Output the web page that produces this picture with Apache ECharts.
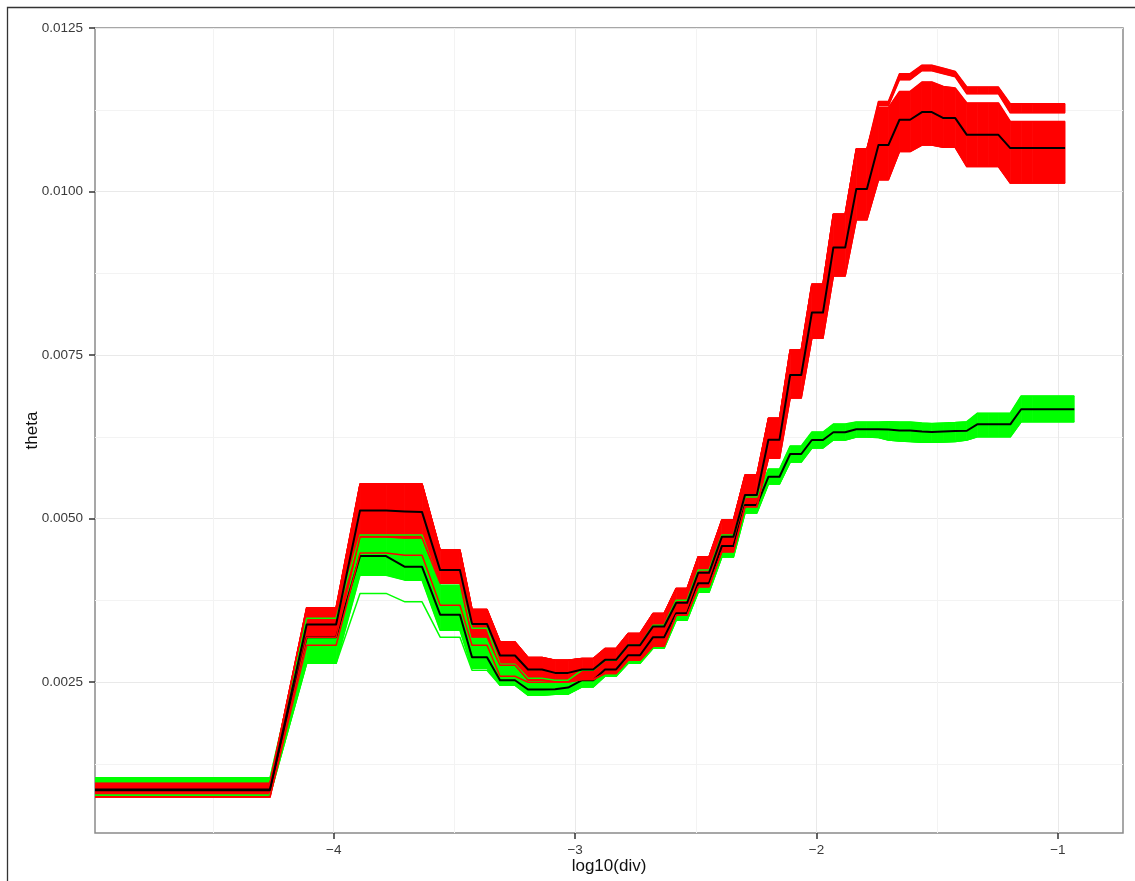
<!DOCTYPE html>
<html>
<head>
<meta charset="utf-8">
<title>theta vs log10(div)</title>
<script src="https://cdn.jsdelivr.net/npm/echarts@6/dist/echarts.min.js"></script>
<style>
  html, body { margin: 0; padding: 0; background: #ffffff; }
  #chart { width: 1135px; height: 881px; }
</style>
</head>
<body>
<div id="chart"></div>
<script>
// Breakpoints on the log10(div) axis shared by every curve (last point added per group)
const logDiv = [
  -4.989, -4.264, -4.112, -3.990, -3.891, -3.783, -3.705, -3.634, -3.559, -3.477,
  -3.427, -3.365, -3.311, -3.249, -3.195, -3.137, -3.083, -3.029, -2.971, -2.925,
  -2.876, -2.830, -2.780, -2.731, -2.677, -2.631, -2.581, -2.536, -2.490, -2.445,
  -2.392, -2.344, -2.296, -2.247, -2.199, -2.153, -2.109, -2.063, -2.019, -1.973,
  -1.930, -1.881, -1.835, -1.791, -1.743, -1.702, -1.656, -1.612, -1.563, -1.522,
  -1.474, -1.425, -1.377, -1.334, -1.288, -1.246, -1.197, -1.152, -1.106
];
const redEnd = -0.970;
const greenEnd = -0.932;

// Red group: mean curve, replicate envelope (upper/lower) and outermost replicates
const redMean = [
  0.000857, 0.000857, 0.003381, 0.003381, 0.005125, 0.005122, 0.005107, 0.005099, 0.004212, 0.004212,
  0.003390, 0.003390, 0.002907, 0.002907, 0.002693, 0.002693, 0.002641, 0.002641, 0.002693, 0.002693,
  0.002840, 0.002840, 0.003064, 0.003064, 0.003351, 0.003351, 0.003712, 0.003712, 0.004171, 0.004171,
  0.004721, 0.004721, 0.005359, 0.005359, 0.006206, 0.006206, 0.007195, 0.007195, 0.008149, 0.008149,
  0.009143, 0.009143, 0.010037, 0.010037, 0.010710, 0.010710, 0.011097, 0.011097, 0.011215, 0.011215,
  0.011123, 0.011123, 0.010867, 0.010867, 0.010867, 0.010867, 0.010664, 0.010664, 0.010664, 0.010664
];
const redHigh = [
  0.000950, 0.000950, 0.003638, 0.003638, 0.005528, 0.005528, 0.005528, 0.005528, 0.004518, 0.004518,
  0.003611, 0.003611, 0.003115, 0.003115, 0.002876, 0.002876, 0.002835, 0.002835, 0.002861, 0.002861,
  0.003014, 0.003014, 0.003244, 0.003244, 0.003550, 0.003550, 0.003932, 0.003932, 0.004415, 0.004415,
  0.004977, 0.004977, 0.005665, 0.005665, 0.006533, 0.006533, 0.007578, 0.007578, 0.008583, 0.008583,
  0.009654, 0.009654, 0.010649, 0.010649, 0.011281, 0.011281, 0.011530, 0.011530, 0.011674, 0.011674,
  0.011606, 0.011582, 0.011353, 0.011353, 0.011353, 0.011353, 0.011071, 0.011071, 0.011071, 0.011071
];
// Highest few replicates, which split off above the main envelope near the plateau
const redTop = [
  0.000950, 0.000950, 0.003638, 0.003638, 0.005528, 0.005528, 0.005528, 0.005528, 0.004518, 0.004518,
  0.003611, 0.003611, 0.003115, 0.003115, 0.002876, 0.002876, 0.002835, 0.002835, 0.002861, 0.002861,
  0.003014, 0.003014, 0.003244, 0.003244, 0.003550, 0.003550, 0.003932, 0.003932, 0.004415, 0.004415,
  0.004977, 0.004977, 0.005665, 0.005665, 0.006533, 0.006533, 0.007578, 0.007578, 0.008583, 0.008583,
  0.009654, 0.009654, 0.010649, 0.010649, 0.011377, 0.011377, 0.011801, 0.011801, 0.011931, 0.011931,
  0.011885, 0.011836, 0.011597, 0.011597, 0.011597, 0.011597, 0.011342, 0.011342, 0.011342, 0.011342
];
const redTopLow = [
  0.000950, 0.000950, 0.003638, 0.003638, 0.005528, 0.005528, 0.005528, 0.005528, 0.004518, 0.004518,
  0.003611, 0.003611, 0.003115, 0.003115, 0.002876, 0.002876, 0.002835, 0.002835, 0.002861, 0.002861,
  0.003014, 0.003014, 0.003244, 0.003244, 0.003550, 0.003550, 0.003932, 0.003932, 0.004415, 0.004415,
  0.004977, 0.004977, 0.005665, 0.005665, 0.006533, 0.006533, 0.007578, 0.007578, 0.008583, 0.008583,
  0.009654, 0.009654, 0.010649, 0.010649, 0.011311, 0.011311, 0.011709, 0.011709, 0.011847, 0.011847,
  0.011801, 0.011755, 0.011495, 0.011495, 0.011495, 0.011495, 0.011204, 0.011204, 0.011204, 0.011204
];
const redLow = [
  0.000742, 0.000742, 0.003187, 0.003187, 0.004717, 0.004717, 0.004702, 0.004702, 0.004013, 0.004013,
  0.003191, 0.003191, 0.002758, 0.002758, 0.002529, 0.002529, 0.002503, 0.002503, 0.002540, 0.002540,
  0.002632, 0.002632, 0.002835, 0.002835, 0.003049, 0.003049, 0.003523, 0.003523, 0.003956, 0.003956,
  0.004492, 0.004492, 0.005180, 0.005180, 0.005921, 0.005921, 0.006844, 0.006844, 0.007757, 0.007757,
  0.008710, 0.008710, 0.009567, 0.009567, 0.010179, 0.010179, 0.010612, 0.010612, 0.010710, 0.010710,
  0.010676, 0.010676, 0.010382, 0.010382, 0.010382, 0.010382, 0.010129, 0.010129, 0.010129, 0.010129
];
const redMin = [
  0.000742, 0.000742, 0.003064, 0.003064, 0.004472, 0.004472, 0.004441, 0.004441, 0.003676, 0.003676,
  0.003064, 0.003064, 0.002590, 0.002590, 0.002498, 0.002498, 0.002503, 0.002503, 0.002540, 0.002540,
  0.002632, 0.002632, 0.002835, 0.002835, 0.003049, 0.003049, 0.003523, 0.003523, 0.003956, 0.003956,
  0.004492, 0.004492, 0.005180, 0.005180, 0.005921, 0.005921, 0.006844, 0.006844, 0.007757, 0.007757,
  0.008710, 0.008710, 0.009567, 0.009567, 0.010179, 0.010179, 0.010612, 0.010612, 0.010710, 0.010710,
  0.010676, 0.010676, 0.010382, 0.010382, 0.010382, 0.010382, 0.010129, 0.010129, 0.010129, 0.010129
];

// Green group: same layout as the red group
const greenMean = [
  0.000846, 0.000846, 0.003187, 0.003187, 0.004426, 0.004426, 0.004262, 0.004262, 0.003531, 0.003531,
  0.002881, 0.002881, 0.002529, 0.002529, 0.002387, 0.002387, 0.002391, 0.002417, 0.002529, 0.002529,
  0.002693, 0.002693, 0.002911, 0.002911, 0.003187, 0.003187, 0.003554, 0.003554, 0.004013, 0.004013,
  0.004579, 0.004579, 0.005206, 0.005206, 0.005639, 0.005639, 0.005987, 0.005987, 0.006201, 0.006201,
  0.006319, 0.006319, 0.006365, 0.006365, 0.006365, 0.006362, 0.006346, 0.006346, 0.006331, 0.006323,
  0.006331, 0.006339, 0.006343, 0.006441, 0.006441, 0.006441, 0.006441, 0.006671, 0.006671, 0.006671
];
const greenHigh = [
  0.001037, 0.001037, 0.003478, 0.003478, 0.004747, 0.004747, 0.004747, 0.004747, 0.003982, 0.003982,
  0.003325, 0.003325, 0.002774, 0.002774, 0.002560, 0.002560, 0.002529, 0.002529, 0.002682, 0.002682,
  0.002835, 0.002835, 0.003064, 0.003064, 0.003370, 0.003370, 0.003753, 0.003753, 0.004212, 0.004212,
  0.004747, 0.004747, 0.005329, 0.005329, 0.005757, 0.005757, 0.006109, 0.006109, 0.006323, 0.006323,
  0.006446, 0.006446, 0.006476, 0.006476, 0.006476, 0.006481, 0.006476, 0.006476, 0.006461, 0.006453,
  0.006461, 0.006469, 0.006481, 0.006610, 0.006610, 0.006610, 0.006610, 0.006874, 0.006874, 0.006874
];
const greenLow = [
  0.000769, 0.000769, 0.002789, 0.002789, 0.004135, 0.004135, 0.004059, 0.004059, 0.003294, 0.003294,
  0.002713, 0.002713, 0.002452, 0.002452, 0.002299, 0.002299, 0.002315, 0.002315, 0.002426, 0.002426,
  0.002590, 0.002590, 0.002789, 0.002789, 0.003019, 0.003019, 0.003447, 0.003447, 0.003875, 0.003875,
  0.004411, 0.004411, 0.005084, 0.005084, 0.005528, 0.005528, 0.005864, 0.005864, 0.006079, 0.006079,
  0.006201, 0.006201, 0.006247, 0.006247, 0.006239, 0.006201, 0.006186, 0.006178, 0.006166, 0.006166,
  0.006170, 0.006178, 0.006201, 0.006251, 0.006251, 0.006251, 0.006251, 0.006481, 0.006481, 0.006481
];
const greenMin = [
  0.000769, 0.000769, 0.002789, 0.002789, 0.003856, 0.003856, 0.003727, 0.003727, 0.003187, 0.003187,
  0.002682, 0.002682, 0.002452, 0.002452, 0.002299, 0.002299, 0.002315, 0.002315, 0.002426, 0.002426,
  0.002590, 0.002590, 0.002789, 0.002789, 0.003019, 0.003019, 0.003447, 0.003447, 0.003875, 0.003875,
  0.004411, 0.004411, 0.005084, 0.005084, 0.005528, 0.005528, 0.005864, 0.005864, 0.006079, 0.006079,
  0.006201, 0.006201, 0.006247, 0.006247, 0.006239, 0.006201, 0.006186, 0.006178, 0.006166, 0.006166,
  0.006170, 0.006178, 0.006201, 0.006251, 0.006251, 0.006251, 0.006251, 0.006481, 0.006481, 0.006481
];

// Axis ticks and grid lines
const xMajorTicks = [-4, -3, -2, -1];
const xMinorTicks = [-4.5, -3.5, -2.5, -1.5];
const yMajorTicks = [0.0025, 0.005, 0.0075, 0.01, 0.0125];
const yMinorTicks = [0.00125, 0.00375, 0.00625, 0.00875, 0.01125];

const X_MIN = -4.989, X_MAX = -0.730;
const Y_MIN = 0.000193, Y_MAX = 0.0125;

const RED = '#ff0000';
const GREEN = '#00ff00';
const BLACK = '#000000';

const xRed = logDiv.concat([redEnd]);
const xGreen = logDiv.concat([greenEnd]);

function pts(xs, ys) {
  return ys.map((y, i) => [xs[i], y]);
}
function line(name, xs, ys, color, width) {
  return {
    name: name, type: 'line', data: pts(xs, ys),
    showSymbol: false, symbol: 'none', silent: true,
    lineStyle: { color: color, width: width, join: 'round' },
    animation: false
  };
}
// Filled envelope between an upper and a lower replicate curve, one quad per segment
function band(name, xs, hi, lo, color) {
  const segs = [];
  for (let i = 0; i < xs.length - 1; i++) {
    segs.push([xs[i], xs[i + 1], hi[i], lo[i], hi[i + 1], lo[i + 1]]);
  }
  return {
    name: name + ' band', type: 'custom', data: segs, silent: true, clip: true,
    encode: { x: [0, 1], y: [2, 3, 4, 5] },
    animation: false,
    renderItem: function (params, api) {
      const a = api.coord([api.value(0), api.value(2)]);
      const b = api.coord([api.value(1), api.value(4)]);
      const c = api.coord([api.value(1), api.value(5)]);
      const d = api.coord([api.value(0), api.value(3)]);
      return {
        type: 'polygon',
        shape: { points: [a, b, c, d] },
        style: { fill: color, stroke: color, lineWidth: 0.8 }
      };
    }
  };
}

const series = [
  band('green', xGreen, greenHigh, greenLow, GREEN),
  line('green upper', xGreen, greenHigh, GREEN, 1.5),
  line('green lower', xGreen, greenLow, GREEN, 1.5),
  line('green lowest', xGreen, greenMin, GREEN, 1.5),
  line('green mean', xGreen, greenMean, BLACK, 2),
  band('red', xRed, redHigh, redLow, RED),
  band('red top', xRed, redTop, redTopLow, RED),
  line('red upper', xRed, redHigh, RED, 1.5),
  line('red top edge', xRed, redTop, RED, 1.5),
  line('red top inner', xRed, redTopLow, RED, 1.5),
  line('red lower', xRed, redLow, RED, 1.5),
  line('red lowest', xRed, redMin, RED, 1.5),
  line('red mean', xRed, redMean, BLACK, 2)
];

const FONT = '"Liberation Sans", Arial, Helvetica, sans-serif';

const chart = echarts.init(document.getElementById('chart'), null, { renderer: 'canvas' });
chart.setOption({
  backgroundColor: '#ffffff',
  animation: false,
  grid: {
    left: 95, top: 28, right: 12, bottom: 48,
    show: true, borderColor: '#8a8a8a', borderWidth: 1.5, backgroundColor: 'transparent',
    containLabel: false, outerBoundsMode: 'none'
  },
  graphic: [{
    type: 'rect', silent: true, z: -10,
    shape: { x: 7.5, y: 7.5, width: 1400, height: 1200 },
    style: { fill: 'none', stroke: '#333333', lineWidth: 1.3 }
  }],
  xAxis: [
    {
      type: 'value', min: X_MIN, max: X_MAX,
      name: 'log10(div)', nameLocation: 'middle', nameGap: 25, nameMoveOverlap: false,
      nameTextStyle: { fontFamily: FONT, fontSize: 17, color: '#111111' },
      axisLine: { show: false },
      axisTick: { show: true, length: 6, customValues: xMajorTicks,
                  lineStyle: { color: '#333333', width: 1.5 } },
      axisLabel: { show: true, customValues: xMajorTicks, margin: 10,
                   fontFamily: FONT, fontSize: 13.5, color: '#3a3a3a',
                   formatter: v => (v < 0 ? '\u2212' : '') + Math.abs(v) },
      splitLine: { show: true, lineStyle: { color: '#e9e9e9', width: 1 } }
    },
    {
      type: 'value', min: X_MIN, max: X_MAX, position: 'bottom',
      axisLine: { show: false },
      axisTick: { show: false, customValues: xMinorTicks },
      axisLabel: { show: false, customValues: xMinorTicks },
      splitLine: { show: true, lineStyle: { color: '#f3f3f3', width: 1 } }
    }
  ],
  yAxis: [
    {
      type: 'value', min: Y_MIN, max: Y_MAX,
      name: 'theta', nameLocation: 'middle', nameGap: 54, nameMoveOverlap: false,
      nameTextStyle: { fontFamily: FONT, fontSize: 17, color: '#111111' },
      axisLine: { show: false },
      axisTick: { show: true, length: 6, customValues: yMajorTicks,
                  lineStyle: { color: '#333333', width: 1.5 } },
      axisLabel: { show: true, customValues: yMajorTicks, margin: 12,
                   fontFamily: FONT, fontSize: 13.5, color: '#3a3a3a',
                   formatter: v => v.toFixed(4) },
      splitLine: { show: true, lineStyle: { color: '#e9e9e9', width: 1 } }
    },
    {
      type: 'value', min: Y_MIN, max: Y_MAX, position: 'left',
      axisLine: { show: false },
      axisTick: { show: false, customValues: yMinorTicks },
      axisLabel: { show: false, customValues: yMinorTicks },
      splitLine: { show: true, lineStyle: { color: '#f3f3f3', width: 1 } }
    }
  ],
  tooltip: { show: false },
  series: series
});
</script>
</body>
</html>
